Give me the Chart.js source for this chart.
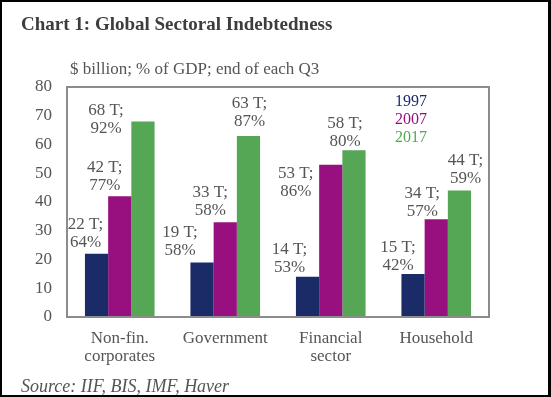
<!DOCTYPE html>
<html lang="en">
  <head>
    <meta charset="UTF-8" />
    <title>Global Sectoral Indebtedness</title>
    <style>
      body { margin: 0; background: #fff; }
      canvas { display: block; }
    </style>
  </head>
  <body>
    <canvas id="lienzo" width="551" height="397"></canvas>

    <script src="https://cdn.jsdelivr.net/npm/chart.js"></script>

    <script>
      const categorias = [["Non-fin.", "corporates"], "Government", ["Financial", "sector"], "Household"];
      const anios = ["1997", "2007", "2017"];
      const deuda1997 = [22, 19, 14, 15];
      const deuda2007 = [42, 33, 53, 34];
      const deuda2017 = [68, 63, 58, 44];
      const pib1997 = [64, 58, 53, 42];
      const pib2007 = [77, 58, 86, 57];
      const pib2017 = [92, 87, 80, 59];
      const ticksY = [0, 10, 20, 30, 40, 50, 60, 70, 80];

      const colores = ["#1b2b68", "#98107f", "#55a655"];
      const gris = "#555";
      const fuente = "'Liberation Serif', serif";

      // where each label sits relative to the top-centre of its bar
      const etiquetaDx = [
        [-11, -22, -18, -15],
        [-15, -15, -35, -14],
        [-37, 1, -9, 6],
      ];
      const etiquetaDy = [
        [-29, -30, -27, -26],
        [-29, -30, 9, -26],
        [-11, -32, -27, -30],
      ];

      const textos = {
        id: "textos",
        beforeDraw(chart) {
          const ctx = chart.ctx;
          ctx.save();
          ctx.fillStyle = "#fff";
          ctx.fillRect(0, 0, chart.width, chart.height);
          ctx.textBaseline = "middle";
          ctx.textAlign = "left";
          ctx.fillStyle = "#3d3d3d";
          ctx.font = "bold 19px " + fuente;
          ctx.fillText("Chart 1: Global Sectoral Indebtedness", 21, 25);
          ctx.fillStyle = gris;
          ctx.font = "17px " + fuente;
          ctx.fillText("$ billion; % of GDP; end of each Q3", 70, 70);
          ctx.font = "italic 18px " + fuente;
          ctx.fillText("Source: IIF, BIS, IMF, Haver", 21, 387);
          ctx.restore();
        },
        afterDatasetsDraw(chart) {
          const ctx = chart.ctx;
          const a = chart.chartArea;
          ctx.save();
          ctx.strokeStyle = "#8c8c8c";
          ctx.lineWidth = 2;
          ctx.strokeRect(a.left, a.top, a.right - a.left, a.bottom - a.top);

          ctx.font = "17px " + fuente;
          ctx.textBaseline = "middle";
          ctx.textAlign = "center";
          ctx.fillStyle = gris;
          const pibs = [pib1997, pib2007, pib2017];
          chart.data.datasets.forEach((ds, d) => {
            chart.getDatasetMeta(d).data.forEach((barra, i) => {
              const x = barra.x + etiquetaDx[d][i];
              const y = barra.y + etiquetaDy[d][i];
              ctx.fillText(ds.data[i] + " T;", x, y);
              ctx.fillText(pibs[d][i] + "%", x, y + 18);
            });
          });

          ctx.textAlign = "left";
          ctx.font = "16px " + fuente;
          anios.forEach((anio, d) => {
            ctx.fillStyle = colores[d];
            ctx.fillText(anio, 395, 102 + d * 18);
          });

          // outer frame of the picture
          ctx.fillStyle = "#000";
          ctx.fillRect(0, 0, chart.width, 2);
          ctx.fillRect(0, 0, 2, chart.height);
          ctx.fillRect(0, chart.height - 2, chart.width, 2);
          ctx.fillRect(chart.width - 3, 0, 3, chart.height);
          ctx.restore();
        },
      };

      const lienzo = document.querySelector("#lienzo");
      const grafico = new Chart(lienzo, {
        type: "bar",
        data: {
          labels: categorias,
          datasets: [
            { label: anios[0], data: deuda1997, backgroundColor: colores[0] },
            { label: anios[1], data: deuda2007, backgroundColor: colores[1] },
            { label: anios[2], data: deuda2017, backgroundColor: colores[2] },
          ],
        },
        options: {
          responsive: false,
          animation: false,
          layout: { padding: { left: 0, right: 62, top: 87, bottom: 0 } },
          datasets: { bar: { categoryPercentage: 0.66, barPercentage: 1 } },
          plugins: { legend: { display: false }, tooltip: { enabled: false } },
          scales: {
            x: {
              grid: { display: false, drawTicks: false },
              border: { display: false },
              ticks: { color: gris, font: { family: fuente, size: 17, lineHeight: 1.06 }, padding: 13, maxRotation: 0 },
              afterFit(axis) {
                axis.height = 80;
              },
            },
            y: {
              min: 0,
              max: 80,
              afterBuildTicks(axis) {
                axis.ticks = ticksY.map((v) => ({ value: v }));
              },
              grid: { display: false, drawTicks: false },
              border: { display: false },
              ticks: { color: gris, font: { family: fuente, size: 17 }, padding: 15 },
              afterFit(axis) {
                axis.width = 67;
              },
            },
          },
        },
        plugins: [textos],
      });
    </script>
  </body>
</html>
